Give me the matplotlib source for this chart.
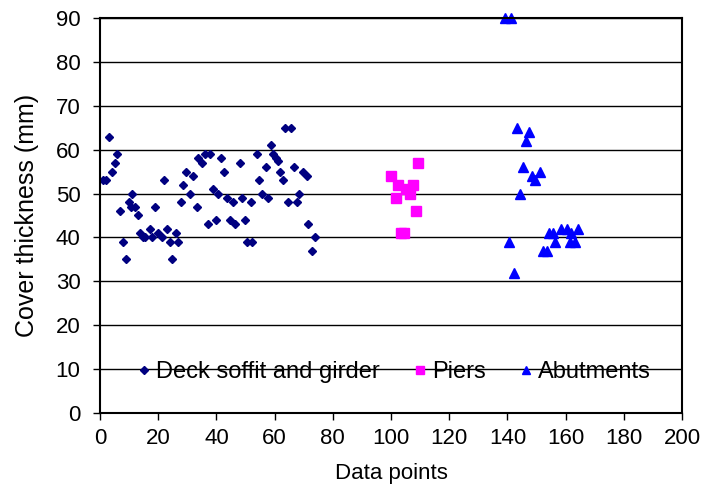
import matplotlib
matplotlib.use('Agg')
import matplotlib.pyplot as plt

plt.rcParams['font.family'] = ['Liberation Sans', 'DejaVu Sans']

# deck soffit and girder readings
deck_x = [1, 2, 3, 4, 5, 6, 7, 8, 9, 10, 11, 10.7, 12, 13, 13.7, 14.7, 15.5, 17.2, 17.8, 18.9,
          20, 21.2, 22, 22.9, 24.1, 24.9, 26, 26.9, 27.8, 28.6, 29.4, 30.9, 32.1, 33.2, 33.8, 34.9,
          36.1, 37, 37.8, 38.9, 39.8, 40.7, 41.7, 42.7, 43.5, 44.7, 45.8, 46.4, 48.1, 48.9, 49.8,
          50.6, 51.9, 52.3, 53.8, 54.6, 55.8, 56.9, 57.8, 58.8, 59.6, 60.4, 61.1, 61.9, 62.8,
          63.6, 64.7, 65.6, 66.8, 67.8, 68.5, 69.9, 71, 71.6, 72.7, 73.9]
deck_y = [53, 53, 63, 55, 57, 59, 46, 39, 35, 48, 50, 47, 47, 45, 41, 40, 40, 42, 40, 47,
          41, 40, 53, 42, 39, 35, 41, 39, 48, 52, 55, 50, 54, 47, 58, 57,
          59, 43, 59, 51, 44, 50, 58, 55, 49, 44, 48, 43, 57, 49, 44,
          39, 48, 39, 59, 53, 50, 56, 49, 61, 59, 58, 57.5, 55, 53,
          65, 48, 65, 56, 48, 50, 55, 54, 43, 37, 40]

# piers
pier_x = [100, 101.6, 102.5, 103.5, 104.5, 105.2, 106.5, 107.5, 108.6, 109.4]
pier_y = [54, 49, 52, 41, 41, 51, 50, 52, 46, 57]

# abutments
abut_x = [139.2, 141.1, 140.5, 142.4, 143.2, 144.3, 145.5, 146.4, 147.5, 148.3, 149.5, 151.2,
          152.3, 153.5, 154.3, 155.5, 156.4, 158.5, 160.4, 161.5, 162, 163.2, 164.4]
abut_y = [90, 90, 39, 32, 65, 50, 56, 62, 64, 54, 53, 55,
          37, 37, 41, 41, 39, 42, 42, 39, 41, 39, 42]

fig = plt.figure(figsize=(7.02, 5.0), dpi=100)
ax = fig.add_axes([0.1425, 0.174, 0.829, 0.79])

ax.plot(deck_x, deck_y, linestyle='none', marker='D', ms=4.5, color='#000080',
        label='Deck soffit and girder', clip_on=False)
ax.plot(pier_x, pier_y, linestyle='none', marker='s', ms=7, color='#FF00FF',
        label='Piers', clip_on=False)
ax.plot(abut_x, abut_y, linestyle='none', marker='^', ms=7.5, color='#0000FF',
        label='Abutments', clip_on=False)

ax.set_xlim(0, 200)
ax.set_ylim(0, 90)
ax.set_xticks(range(0, 201, 20))
ax.set_yticks(range(0, 91, 10))
ax.yaxis.grid(True, color='black', lw=1)
ax.set_axisbelow(True)
for s in ax.spines.values():
    s.set_linewidth(1.5)
ax.tick_params(direction='out', length=5, labelsize=16, width=1)
ax.tick_params(axis='y', pad=9)
ax.tick_params(axis='x', pad=6)

ax.set_xlabel('Data points', fontsize=16, labelpad=10)
ax.set_ylabel('Cover thickness (mm)', fontsize=18, labelpad=12)

ax.legend(loc='center', bbox_to_anchor=(0.505, 0.104), ncol=3, frameon=False,
          fontsize=17, handletextpad=0.2, columnspacing=1.4, handlelength=0.6,
          markerscale=0.8, borderpad=0.2)

fig.savefig('out.png', dpi=100)
